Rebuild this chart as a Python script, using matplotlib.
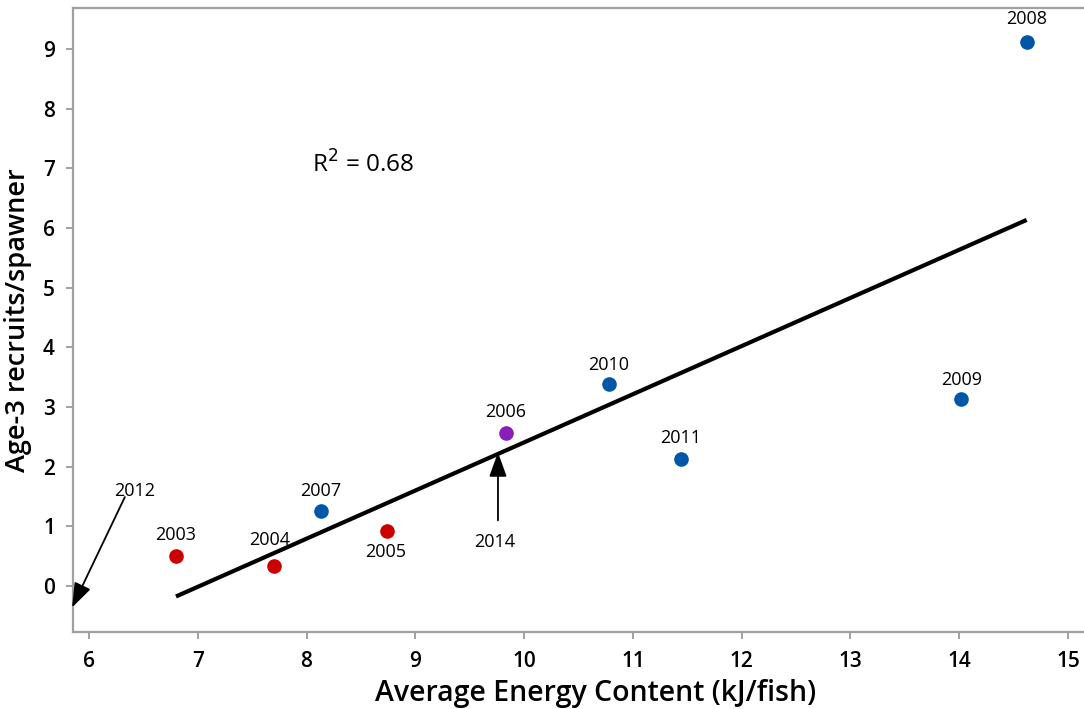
import matplotlib
matplotlib.use('Agg')
import matplotlib.pyplot as plt
import numpy as np

plt.rcParams['font.family'] = ['Open Sans', 'DejaVu Sans']

years = ['2003', '2004', '2005', '2006', '2007', '2008', '2009', '2010', '2011']
energy = [6.80, 7.70, 8.74, 9.83, 8.13, 14.62, 14.02, 10.78, 11.44]
recruits = [0.50, 0.335, 0.92, 2.56, 1.26, 9.11, 3.13, 3.38, 2.13]
groups = ['red', 'red', 'red', 'purple', 'blue', 'blue', 'blue', 'blue', 'blue']

colors = {'red': '#CC0000', 'purple': '#8B1DB8', 'blue': '#0057A8'}
# label offsets in points (dx, dy)
offsets = {'2003': (0, 15), '2004': (-3, 19), '2005': (-1, -15), '2006': (0, 15),
           '2007': (0, 14), '2008': (0, 17), '2009': (0, 14), '2010': (0, 14),
           '2011': (0, 15)}

fig = plt.figure(figsize=(10.84, 7.09), dpi=100)
ax = fig.add_axes([0.0673, 0.1086, 0.9327, 0.8801])

# regression line
slope, intercept = np.polyfit(energy, recruits, 1)
xfit = np.array([min(energy), max(energy)])
ax.plot(xfit, slope * xfit + intercept, color='black', lw=3, solid_capstyle='butt', zorder=2)
r2 = np.corrcoef(energy, recruits)[0, 1] ** 2

for yr, x, y, g in zip(years, energy, recruits, groups):
    ax.plot(x, y, 'o', ms=9.5, color=colors[g], zorder=3)
    ax.annotate(yr, (x, y), xytext=offsets[yr], textcoords='offset points',
                ha='center', va='center', fontsize=13)

ax.text(8.05, 7.06, f'R$^2$ = {r2:.2f}', fontsize=17.5, va='center', ha='left')

# annotations for 2012 and 2014
arrow = dict(arrowstyle='-|>,head_length=0.75,head_width=0.27', mutation_scale=20,
             color='black', lw=1.3, shrinkA=0, shrinkB=0)
ax.annotate('', xy=(5.845, -0.36), xytext=(6.33, 1.49), arrowprops=arrow,
            annotation_clip=False)
ax.text(6.42, 1.6, '2012', fontsize=13, ha='center', va='center')
ax.annotate('', xy=(9.76, 2.24), xytext=(9.76, 1.1), arrowprops=arrow)
ax.text(9.73, 0.74, '2014', fontsize=13, ha='center', va='center')

ax.set_xlim(5.853, 15.147)
ax.set_ylim(-0.771, 9.687)
ax.set_xticks(range(6, 16))
ax.set_yticks(range(0, 10))

for s in ['top', 'left', 'bottom']:
    ax.spines[s].set_color('#A0A0A0')
    ax.spines[s].set_linewidth(1.6)
ax.spines['right'].set_visible(False)
ax.tick_params(direction='out', length=5, width=1.4, color='#A0A0A0',
               labelsize=15, labelcolor='black')
ax.tick_params(axis='x', pad=9)
ax.tick_params(axis='y', pad=8)
for lab in ax.get_xticklabels() + ax.get_yticklabels():
    lab.set_fontweight('semibold')

ax.set_xlabel('Average Energy Content (kJ/fish)', fontsize=20.5, fontweight='semibold', labelpad=5)
ax.xaxis.label.set_x(0.517)
ax.set_ylabel('Age-3 recruits/spawner', fontsize=19.5, fontweight='semibold', labelpad=8)

plt.savefig('out.png', dpi=100)
